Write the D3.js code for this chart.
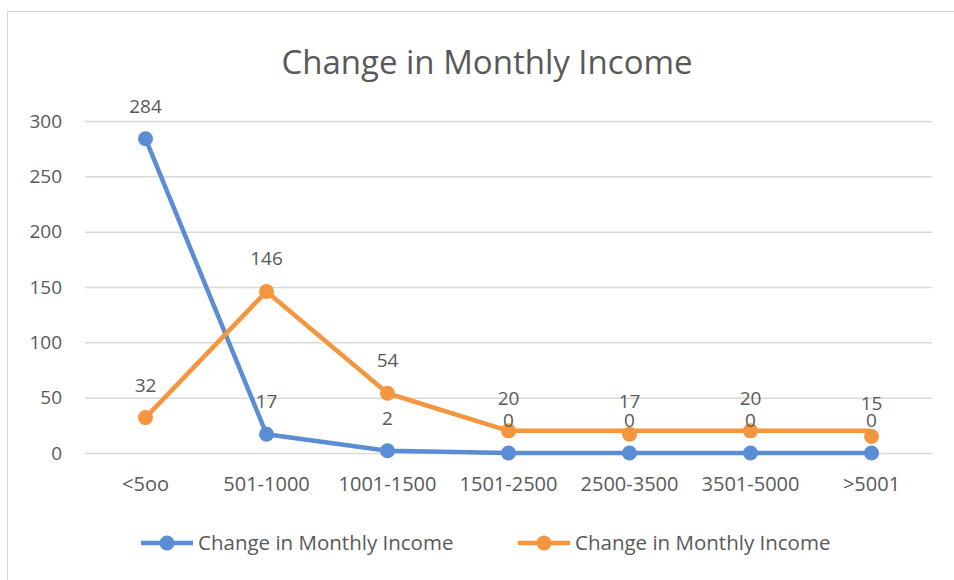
<!DOCTYPE html>
<html>
<head>
<meta charset="utf-8">
<script src="https://cdn.jsdelivr.net/npm/d3@7"></script>
<style>
  body { margin: 0; background: #fff; }
  text { font-family: "Open Sans", "Noto Sans", sans-serif; fill: #595959; }
</style>
</head>
<body>
<svg width="954" height="580"></svg>
<script>
var categories = ["<5oo", "501-1000", "1001-1500", "1501-2500", "2500-3500", "3501-5000", ">5001"];
var blueValues = [284, 17, 2, 0, 0, 0, 0];
var orangeValues = [32, 146, 54, 20, 17, 20, 15];
// the orange line as drawn in the picture runs flat at 20 after 1501-2500
var orangeLineValues = [32, 146, 54, 20, 20, 20, 20];
var seriesNames = ["Change in Monthly Income", "Change in Monthly Income"];
var yTicks = [0, 50, 100, 150, 200, 250, 300];

var BLUE = "#5b8dd5", ORANGE = "#f4963f";

var svg = d3.select("svg"),
    width = +svg.attr("width"),
    height = +svg.attr("height");

// chart frame
svg.append("rect")
    .attr("x", 7.5).attr("y", 11.5)
    .attr("width", 960).attr("height", 600)
    .attr("fill", "none")
    .attr("stroke", "#d9d9d9");

var x = d3.scaleBand()
    .domain(categories)
    .range([85, 932]);

var y = d3.scaleLinear()
    .domain([0, 300])
    .range([453, 121]);

// gridlines
svg.append("g")
    .selectAll("line")
    .data(yTicks)
  .enter().append("line")
    .attr("x1", 85).attr("x2", 932)
    .attr("y1", function(d) { return y(d) + 0.5; })
    .attr("y2", function(d) { return y(d) + 0.5; })
    .attr("stroke", "#d9d9d9")
    .attr("stroke-width", 1.5);

// y axis labels
var yAxis = svg.append("g")
    .attr("transform", "translate(62,0)")
    .call(d3.axisLeft(y).tickValues(yTicks).tickSize(0).tickPadding(0));
yAxis.select(".domain").remove();
yAxis.selectAll("text")
    .style("font-size", "19px")
    .attr("fill", "#595959")
    .style("font-family", "'Open Sans', sans-serif");

// x axis labels
var xAxis = svg.append("g")
    .attr("transform", "translate(0,477)")
    .call(d3.axisBottom(x).tickSize(0).tickPadding(0));
xAxis.select(".domain").remove();
xAxis.selectAll("text")
    .style("font-size", "20px")
    .attr("fill", "#595959")
    .style("font-family", "'Open Sans', sans-serif");

// title
svg.append("text")
    .attr("x", 487).attr("y", 74)
    .attr("text-anchor", "middle")
    .style("font-size", "33px")
    .text("Change in Monthly Income");

var cx = function(i) { return x(categories[i]) + x.bandwidth() / 2; };

var line = d3.line()
    .x(function(d, i) { return cx(i); })
    .y(function(d) { return y(d); });

var series = [
  { line: blueValues, points: blueValues, color: BLUE },
  { line: orangeLineValues, points: orangeValues, color: ORANGE }
];

series.forEach(function(s) {
  svg.append("path")
      .datum(s.line)
      .attr("d", line)
      .attr("fill", "none")
      .attr("stroke", s.color)
      .attr("stroke-width", 4.5)
      .attr("stroke-linejoin", "round");

  svg.append("g")
    .selectAll("circle")
      .data(s.points)
    .enter().append("circle")
      .attr("cx", function(d, i) { return cx(i); })
      .attr("cy", function(d) { return y(d); })
      .attr("r", 7.5)
      .attr("fill", s.color);
});

// data labels
series.forEach(function(s) {
  svg.append("g")
    .selectAll("text")
      .data(s.points)
    .enter().append("text")
      .attr("x", function(d, i) { return cx(i); })
      .attr("y", function(d) { return y(d) - 26; })
      .attr("text-anchor", "middle")
      .style("font-size", "19px")
      .attr("fill", "#404040")
      .text(function(d) { return d; });
});

// legend
var legendX = [141, 518];
series.forEach(function(s, i) {
  var g = svg.append("g").attr("transform", "translate(" + legendX[i] + ",543)");
  g.append("line")
      .attr("x1", 0).attr("x2", 52)
      .attr("stroke", s.color)
      .attr("stroke-width", 4.5);
  g.append("circle")
      .attr("cx", 26).attr("r", 7.5)
      .attr("fill", s.color);
  g.append("text")
      .attr("x", 57).attr("y", 7)
      .style("font-size", "20.5px")
      .text(seriesNames[i]);
});
</script>
</body>
</html>
